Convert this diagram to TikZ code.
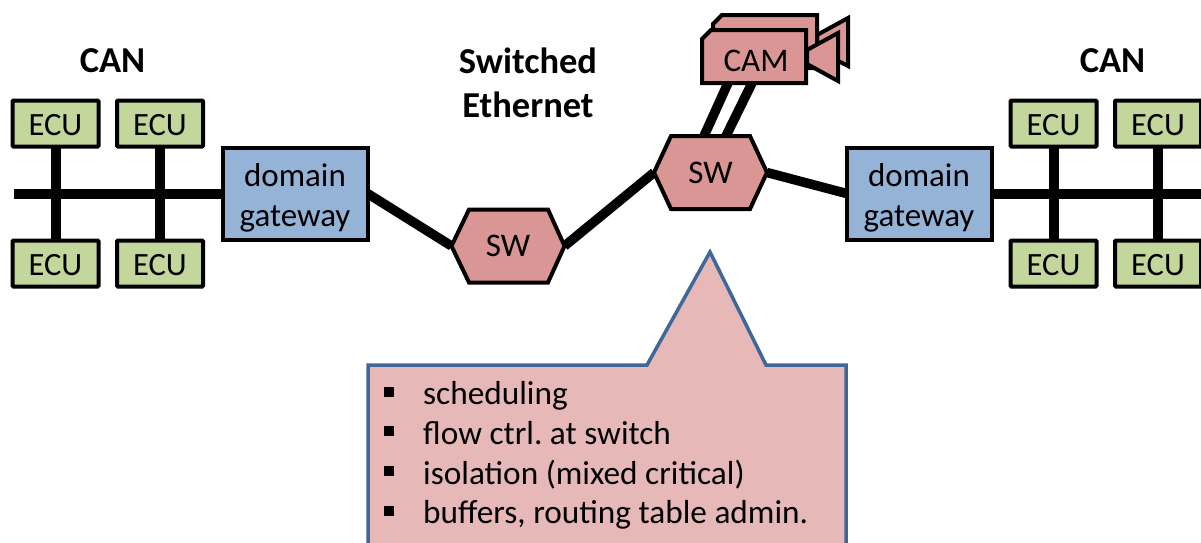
\documentclass[tikz,border=0pt]{standalone}
\usepackage{fontspec}
\setmainfont{Carlito}
\usetikzlibrary{backgrounds}
\definecolor{ecugreen}{HTML}{C3D69B}
\definecolor{gwblue}{HTML}{95B3D7}
\definecolor{swpink}{HTML}{D99694}
\definecolor{notepink}{HTML}{E6B9B8}
\definecolor{noteblue}{HTML}{3F6797}
\newcommand{\txt}[1]{\fontsize{#1}{#1}\selectfont}
\frenchspacing
\tikzset{
  ecubox/.style={draw=black,fill=ecugreen,line width=4pt,rounded corners=1pt,minimum width=86pt,minimum height=46pt,inner sep=0pt,outer sep=0pt,font=\txt{32.5},text height=24pt,text depth=0pt},
  gwbox/.style={draw=black,fill=gwblue,line width=4pt,minimum width=145pt,minimum height=92pt,inner sep=0pt,outer sep=0pt},
  gwlabel/.style={align=center,font=\txt{33},yshift=-4.5pt},
  swnode/.style={minimum width=113pt,minimum height=73pt,inner sep=0pt,outer sep=0pt,font=\txt{33}},
  shapeline/.style={draw=black,fill=swpink,line width=4pt,line join=miter},
  camnode/.style={minimum width=104pt,minimum height=53pt,inner sep=0pt,outer sep=0pt,font=\txt{33}},
  wire/.style={draw=black,line width=9.5pt},
  buswire/.style={draw=black,line width=10pt},
  title/.style={font=\txt{36.5}\bfseries,inner sep=0pt},
  notetext/.style={anchor=base west,inner sep=0pt,font=\txt{33.3}},
  bullet/.style={fill=black,minimum size=10pt,inner sep=0pt},
}
\begin{document}
\begin{tikzpicture}[x=1pt,y=-1pt]
\useasboundingbox (0,0) rectangle (1201,542);
% left CAN
\node[ecubox] (e1) at (55.5,123.5) {ECU};
\node[ecubox] (e2) at (160,123.5) {ECU};
\node[ecubox] (e3) at (55.5,263.5) {ECU};
\node[ecubox] (e4) at (160,263.5) {ECU};
\node[gwbox,label={[gwlabel]center:domain\\[7pt]gateway}] (gw1) at (295,193.5) {};
\coordinate (busl) at (14,193.5);
% right CAN
\node[ecubox] (e5) at (1053.5,123.5) {ECU};
\node[ecubox] (e6) at (1158,123.5) {ECU};
\node[ecubox] (e7) at (1053.5,263.5) {ECU};
\node[ecubox] (e8) at (1158,263.5) {ECU};
\node[gwbox,label={[gwlabel]center:domain\\[7pt]gateway}] (gw2) at (919,193.5) {};
\coordinate (busr) at (1204,193.5);
% switches
\draw[shapeline] (451.5,246) -- (469,209.5) -- (548,209.5) -- (564.5,246) -- (548,282.5) -- (469,282.5) -- cycle;
\node[swnode] (sw1) at (508,246) {SW};
\draw[shapeline] (654,172.5) -- (671,136) -- (750,136) -- (767,172.5) -- (750,209) -- (671,209) -- cycle;
\node[swnode] (sw2) at (710.5,172.5) {SW};
% camera
\draw[shapeline] (817,35) -- (848,18) -- (848,66) -- (817,50) -- cycle;
\draw[shapeline] (713,24) -- (722,15) -- (817,15) -- (817,68) -- (713,68) -- cycle;
\draw[shapeline] (807,50) -- (838,33) -- (838,81) -- (807,64) -- cycle;
\draw[shapeline] (702,39) -- (711,30) -- (806,30) -- (806,83) -- (702,83) -- cycle;
\node[camnode] (cam) at (756,61) {CAM};
\coordinate (camb) at (754,83);
% titles
\node[title] (t1) at (112.5,61) {CAN};
\node[title] (t2) at (528,61) {Switched};
\node[title] (t3) at (528,105) {Ethernet};
\node[title] (t4) at (1112.5,61) {CAN};
% connectors
\begin{scope}[on background layer]
\draw[buswire] (busl) -- (gw1.west);
\draw[buswire] (gw2.east) -- (busr);
\draw[buswire] (e1.south) -- (e3.north);
\draw[buswire] (e2.south) -- (e4.north);
\draw[buswire] (e5.south) -- (e7.north);
\draw[buswire] (e6.south) -- (e8.north);
\draw[wire] (gw1.east) -- (sw1.west);
\draw[wire] (sw1.east) -- (sw2.west);
\draw[wire] (sw2.east) -- (gw2.west);
\draw[wire] ([xshift=-26pt]camb) -- ([xshift=-6.5pt]sw2.north);
\draw[wire] ([xshift=-2pt]camb) -- ([xshift=15.5pt]sw2.north);
\end{scope}
% callout
\draw[draw=noteblue,fill=notepink,line width=3.5pt,line join=miter]
  (368,365) -- (647,365) -- (710,252) -- (766,365) -- (846,365) -- (846,548) -- (368,548) -- cycle;
\node[bullet] (b1) at (389,392) {};
\node[bullet] (b2) at (389,431) {};
\node[bullet] (b3) at (389,471) {};
\node[bullet] (b4) at (389,511) {};
\node[notetext] (n1) at (423,404) {scheduling};
\node[notetext] (n2) at (423,444) {flow ctrl. at switch};
\node[notetext] (n3) at (423,484) {isolation (mixed critical)};
\node[notetext] (n4) at (423,523) {buffers, routing table admin.};
\end{tikzpicture}
\end{document}
